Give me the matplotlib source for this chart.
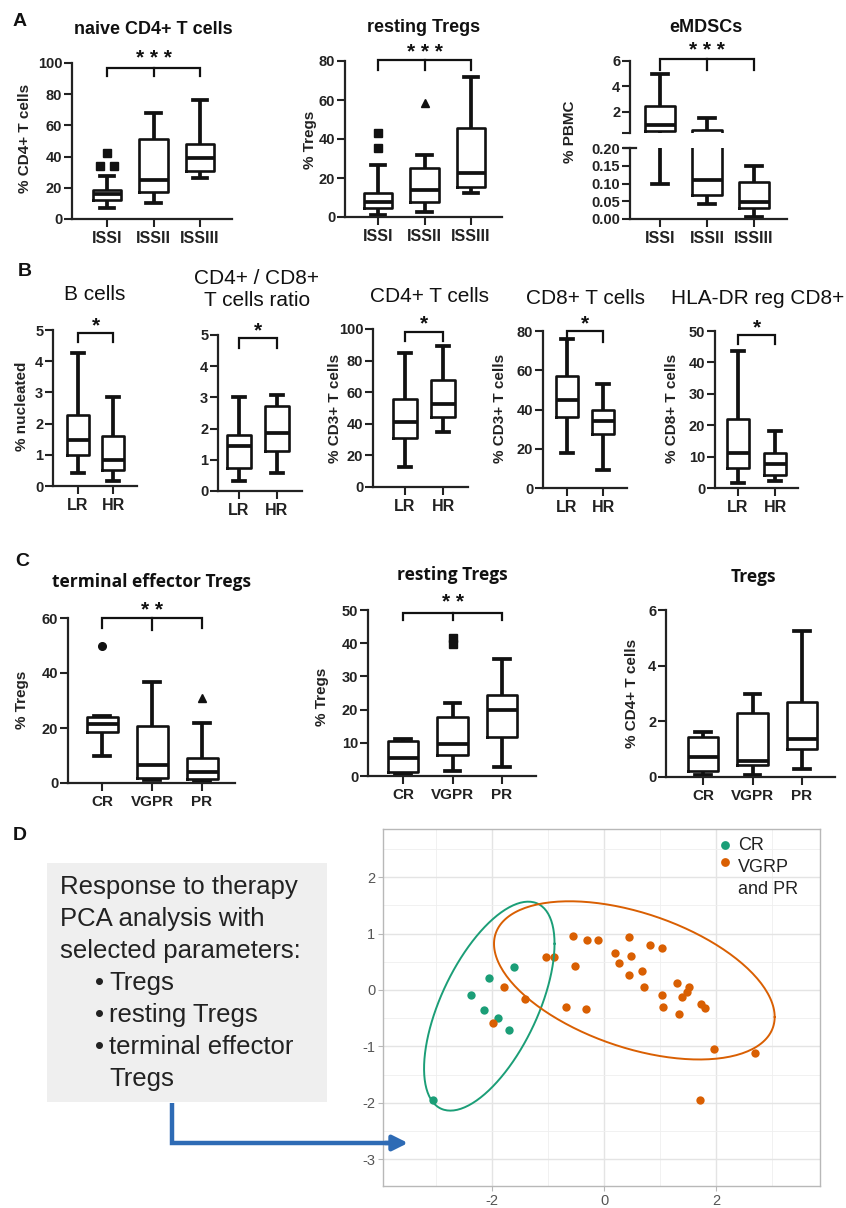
import numpy as np
import matplotlib
matplotlib.use("Agg")
import matplotlib.pyplot as plt
from matplotlib.transforms import blended_transform_factory, Bbox, TransformedBbox
from matplotlib.patches import Rectangle

plt.rcParams["axes.unicode_minus"] = False

W, H = 846, 1208
INK = "#111111"
AXC = "#222222"
SANS = ["Liberation Sans", "DejaVu Sans"]
NARROW = ["Liberation Sans Narrow", "Liberation Sans", "DejaVu Sans"]
OPEN = ["Open Sans", "DejaVu Sans"]
GREEN = "#1B9E77"
ORANGE = "#D95F02"
BLUE = "#2E6BB5"

# ---------------- data ----------------
iss_groups = ["ISSI", "ISSII", "ISSIII"]
risk_groups = ["LR", "HR"]
resp_groups = ["CR", "VGPR", "PR"]

# five-number summaries per group: [whisker low, Q1, median, Q3, whisker high]
naive_cd4_stats = [[7, 12, 16, 18.6, 27.6], [10, 17.5, 25, 51, 68], [26.5, 31, 39, 48, 76]]
naive_cd4_out_group = [0, 0, 0]
naive_cd4_out_value = [42, 34, 34]
naive_cd4_out_jitter = [0.0, -0.15, 0.15]

resting_iss_stats = [[1.0, 4.6, 7.7, 12.3, 26.7], [2.6, 7.7, 13.8, 25, 31.8], [12.3, 15.4, 22.6, 45.6, 72]]
resting_iss_out_group = [0, 0, 1]
resting_iss_out_value = [43, 35.4, 58.5]

emdsc_stats = [[0.098, 0.5, 0.98, 2.47, 5.0], [0.042, 0.068, 0.11, 0.6, 1.5], [0.006, 0.03, 0.048, 0.104, 0.149]]

bcell_stats = [[0.41, 0.99, 1.47, 2.28, 4.26], [0.16, 0.51, 0.83, 1.6, 2.85]]
cd4cd8_ratio_stats = [[0.32, 0.74, 1.44, 1.8, 3.0], [0.58, 1.28, 1.86, 2.72, 3.08]]
cd4_stats = [[12.7, 31, 41, 56, 85], [35, 44, 52.5, 68, 89]]
cd8_stats = [[18, 36, 45, 57, 76], [9, 27.5, 34, 40, 53]]
hladr_cd8_stats = [[1.6, 6.4, 11, 22, 43.6], [2.3, 4.1, 7.6, 11, 18]]

te_treg_stats = [[10, 18.5, 21.5, 24, 24.5], [1.0, 1.8, 6.5, 20.7, 36.7], [0.5, 1.5, 4, 9, 22]]
te_treg_out_group = [0, 2]
te_treg_out_value = [50, 31]
te_treg_out_marker = ["o", "^"]

resting_resp_stats = [[0.5, 1.3, 5.3, 10.5, 11], [1.5, 6.3, 9.7, 17.7, 22], [2.7, 11.8, 20, 24.4, 35.3]]
resting_resp_out_group = [1, 1]
resting_resp_out_value = [41.5, 39.7]

treg_stats = [[0.07, 0.2, 0.72, 1.45, 1.6], [0.07, 0.43, 0.58, 2.3, 3.0], [0.3, 1.0, 1.37, 2.7, 5.25]]

# PCA scores
cr_pc1 = [-1.61, -2.05, -2.38, -2.15, -1.89, -1.69, -3.05]
cr_pc2 = [0.41, 0.21, -0.08, -0.36, -0.50, -0.71, -1.95]
vp_pc1 = [-0.55, -0.31, -0.10, 0.45, 0.83, 1.03, -1.04, -0.90, -0.51, 0.20, 0.26, 0.48,
          0.45, 0.67, 0.71, 1.03, 1.06, 1.31, 1.51, 1.48, 1.39, 1.34, 1.73, 1.80,
          1.96, 2.70, 1.71, -1.79, -1.41, -1.99, -0.68, -0.32]
vp_pc2 = [0.96, 0.89, 0.89, 0.93, 0.79, 0.75, 0.59, 0.59, 0.43, 0.65, 0.47, 0.60,
          0.27, 0.33, 0.05, -0.08, -0.30, 0.12, 0.05, -0.03, -0.12, -0.43, -0.24, -0.31,
          -1.04, -1.12, -1.95, 0.05, -0.16, -0.59, -0.30, -0.33]

pca_params = ["Tregs", "resting Tregs", "terminal effector", "Tregs"]

# ---------------- figure ----------------
fig = plt.figure(figsize=(W / 100, H / 100), dpi=100)
over = fig.add_axes([0, 0, 1, 1], zorder=10)
over.set_xlim(0, W)
over.set_ylim(H, 0)
over.axis("off")
over.patch.set_alpha(0)


def px_axes(x0, ytop, x1, ybot):
    return fig.add_axes([x0 / W, 1 - ybot / H, (x1 - x0) / W, (ybot - ytop) / H])


def box_panel(rect, first_px, step_px, groups, stats, ylim, yticks, ytlabels=None,
              xfont=NARROW, xsize=11.5, show_x=True, clip_box=None):
    x0, ytop, x1, ybot = rect
    n = len(groups)
    ax = px_axes(*rect)
    ax.patch.set_alpha(0)
    ax.set_xlim(1 - (first_px - x0) / step_px,
                n + (x1 - first_px - (n - 1) * step_px) / step_px)
    ax.set_ylim(*ylim)
    bx = [dict(whislo=s[0], q1=s[1], med=s[2], q3=s[3], whishi=s[4], fliers=[]) for s in stats]
    art = ax.bxp(bx, positions=np.arange(1, n + 1), widths=0.62, capwidths=0.32,
                 showfliers=False, manage_ticks=False,
                 boxprops=dict(color=INK, lw=1.9),
                 whiskerprops=dict(color=INK, lw=2.7, solid_capstyle="butt"),
                 capprops=dict(color=INK, lw=2.7),
                 medianprops=dict(color=INK, lw=2.7))
    for key, lines in art.items():
        for ln in lines:
            if clip_box is None:
                ln.set_clip_on(False)
            else:
                ln.set_clip_box(TransformedBbox(Bbox(clip_box), ax.transAxes))
    for s in ("top", "right"):
        ax.spines[s].set_visible(False)
    ax.spines["left"].set_linewidth(1.6)
    ax.spines["left"].set_color(AXC)
    ax.spines["bottom"].set_linewidth(1.6)
    ax.spines["bottom"].set_color(AXC)
    if show_x:
        ax.set_xticks(np.arange(1, n + 1))
        ax.set_xticklabels(groups, fontfamily=xfont, fontweight="bold", fontsize=xsize, color=AXC)
    else:
        ax.set_xticks([])
        ax.spines["bottom"].set_visible(False)
    ax.set_yticks(yticks)
    labels = ytlabels if ytlabels is not None else [f"{t:g}" for t in yticks]
    ax.set_yticklabels(labels, fontfamily=SANS, fontweight="bold", fontsize=10.5, color=AXC)
    ax.tick_params(axis="both", width=1.5, length=5.5, color=AXC)
    ax.tick_params(axis="y", pad=1.5)
    ax.tick_params(axis="x", pad=3)
    return ax


def outliers(ax, groups_idx, values, marker, jitter=None, ms=5.5):
    xs = np.asarray(groups_idx, float) + 1
    if jitter is not None:
        xs = xs + np.asarray(jitter)
    ax.plot(xs, values, linestyle="none", marker=marker, ms=ms, color=INK, clip_on=False)


def bracket(ax, g1, g3, y_bar, y_drop, text, y_text, mid=None, mid_drop=None, size=15):
    tr = blended_transform_factory(ax.transData, over.transData)
    ax.plot([g1, g1, g3, g3], [y_drop, y_bar, y_bar, y_drop], transform=tr,
            color=INK, lw=1.6, clip_on=False, solid_joinstyle="miter")
    if mid is not None:
        ax.plot([mid, mid], [y_bar, mid_drop], transform=tr, color=INK, lw=1.6, clip_on=False)
    ax.text((g1 + g3) / 2, y_text + 11.5, text, transform=tr, ha="center", va="baseline",
            fontsize=size, fontweight="bold", color=INK, family=SANS)


def title(x, y, s, size=13, weight="bold", family=SANS):
    over.text(x, y, s, ha="center", va="center", fontsize=size, fontweight=weight,
              family=family, color=INK)


def ylab(x, y, s, size=11):
    over.text(x, y, s, ha="center", va="center", rotation=90, fontsize=size,
              fontweight="bold", family=SANS, color=AXC)


# ---------- panel A ----------
over.text(20, 22, "A", fontsize=14, fontweight="bold", family=SANS, ha="center", va="center", color=INK)

a1 = box_panel((72, 63, 232, 219), 107, 46.5, iss_groups, naive_cd4_stats, (0, 100), range(0, 101, 20))
outliers(a1, naive_cd4_out_group, naive_cd4_out_value, "s", naive_cd4_out_jitter)
bracket(a1, 1, 3, 68, 76, "* * *", 53, mid=2, mid_drop=76)
title(153, 30, "naive CD4+ T cells")
ylab(25, 138, "% CD4+ T cells")

a2 = box_panel((345, 61, 502, 217), 378, 46.5, iss_groups, resting_iss_stats, (0, 80), range(0, 81, 20))
outliers(a2, resting_iss_out_group[:2], resting_iss_out_value[:2], "s")
outliers(a2, resting_iss_out_group[2:], resting_iss_out_value[2:], "^")
bracket(a2, 1, 3, 60, 70, "* * *", 47, mid=2, mid_drop=70)
title(424, 28, "resting Tregs")
ylab(310, 140, "% Tregs")

# broken y axis for eMDSCs
a3u = box_panel((630, 61, 787, 133), 660, 47, iss_groups, emdsc_stats, (0.35, 6), [0.35, 2, 4, 6],
                ytlabels=["", "2", "4", "6"], show_x=False, clip_box=[[-0.2, 0.0], [1.2, 1.5]])
a3l = box_panel((630, 148, 787, 219), 660, 47, iss_groups, emdsc_stats, (0, 0.2),
                [0, 0.05, 0.10, 0.15, 0.20], ytlabels=["0.00", "0.05", "0.10", "0.15", "0.20"],
                clip_box=[[-0.2, -0.3], [1.2, 1.0]])
over.plot([624, 636], [148, 148], color=AXC, lw=1.6)
bracket(a3u, 1, 3, 59, 70, "* * *", 45, mid=2, mid_drop=70)
title(706, 28, "eMDSCs")
ylab(570, 132, "% PBMC")

# ---------- panel B ----------
over.text(25, 272, "B", fontsize=14, fontweight="bold", family=SANS, ha="center", va="center", color=INK)

b1 = box_panel((53, 330, 137, 486), 78, 35, risk_groups, bcell_stats, (0, 5), range(0, 6))
bracket(b1, 1, 2, 333, 342, "*", 320)
title(95, 295, "B cells", size=15, weight="normal")
ylab(22, 406, "% nucleated")

b2 = box_panel((218, 335, 302, 491), 239, 38, risk_groups, cd4cd8_ratio_stats, (0, 5), range(0, 6))
bracket(b2, 1, 2, 338, 348, "*", 325)
title(257, 278, "CD4+ / CD8+", size=15, weight="normal")
title(257, 301, "T cells ratio", size=15, weight="normal")

b3 = box_panel((373, 329, 468, 487), 405, 38, risk_groups, cd4_stats, (0, 100), range(0, 101, 20))
bracket(b3, 1, 2, 332, 341, "*", 318)
title(430, 297, "CD4+ T cells", size=15, weight="normal")
ylab(335, 408, "% CD3+ T cells")

b4 = box_panel((543, 331, 627, 488), 567, 36, risk_groups, cd8_stats, (0, 80), range(0, 81, 20))
bracket(b4, 1, 2, 331, 342, "*", 318)
title(585, 298, "CD8+ T cells", size=15, weight="normal")
ylab(500, 408, "% CD3+ T cells")

b5 = box_panel((715, 331, 798, 488), 738, 37, risk_groups, hladr_cd8_stats, (0, 50), range(0, 51, 10))
bracket(b5, 1, 2, 335, 344, "*", 322)
title(758, 298, "HLA-DR reg CD8+", size=15, weight="normal")
ylab(672, 408, "% CD8+ T cells")

# ---------- panel C ----------
over.text(22, 562, "C", fontsize=14, fontweight="bold", family=SANS, ha="center", va="center", color=INK)

c1 = box_panel((68, 618, 235, 783), 102, 50, resp_groups, te_treg_stats, (0, 60), range(0, 61, 20),
               xfont=SANS, xsize=11)
for g, v, m in zip(te_treg_out_group, te_treg_out_value, te_treg_out_marker):
    outliers(c1, [g], [v], m)
bracket(c1, 1, 3, 618, 628, "* *", 605, mid=2, mid_drop=630)
title(152, 582, "terminal effector Tregs", size=12.5, family=OPEN)
ylab(22, 700, "% Tregs")

c2 = box_panel((368, 610, 536, 776), 403, 49.5, resp_groups, resting_resp_stats, (0, 50), range(0, 51, 10),
               xfont=SANS, xsize=11)
outliers(c2, resting_resp_out_group, resting_resp_out_value, "s")
bracket(c2, 1, 3, 613, 620, "* *", 597, mid=2, mid_drop=620)
title(452, 575, "resting Tregs", size=12.5, family=OPEN)
ylab(322, 697, "% Tregs")

c3 = box_panel((666, 610, 835, 777), 703, 49.5, resp_groups, treg_stats, (0, 6), range(0, 7, 2),
               xfont=SANS, xsize=11)
title(753, 577, "Tregs", size=12.5, family=OPEN)
ylab(632, 693, "% CD4+ T cells")

# ---------- panel D ----------
over.text(20, 835, "D", fontsize=14, fontweight="bold", family=SANS, ha="center", va="center", color=INK)
over.add_patch(Rectangle((47, 863), 280, 239, facecolor="#EFEFEF", edgecolor="none"))
intro = ["Response to therapy", "PCA analysis with", "selected parameters:"]
for i, line in enumerate(intro):
    over.text(60, 887 + 32 * i, line, fontsize=18.5, family=SANS, color=AXC, ha="left", va="center")
for i, item in enumerate(pca_params):
    y = 983 + 32 * i
    if i < 3:
        over.text(95, y, "•", fontsize=18.5, family=SANS, color=AXC, ha="left", va="center")
    over.text(109, y, item, fontsize=18.5, family=SANS, color=AXC, ha="left", va="center")

over.plot([172, 172, 395], [1103, 1143, 1143], color=BLUE, lw=3.2, solid_joinstyle="miter",
          solid_capstyle="butt")
over.annotate("", xy=(408, 1143), xytext=(385, 1143),
              arrowprops=dict(arrowstyle="-|>,head_length=0.9,head_width=0.45", color=BLUE, lw=3.2,
                              shrinkA=0, shrinkB=0))

axd = px_axes(383, 829, 820, 1186)
axd.set_xlim(-3.95, 3.86)
axd.set_ylim(-3.47, 2.85)
axd.set_xticks([-2, 0, 2])
axd.set_xticks([-3, -1, 1, 3], minor=True)
axd.set_yticks([-3, -2, -1, 0, 1, 2])
axd.set_yticks([-2.5, -1.5, -0.5, 0.5, 1.5, 2.5], minor=True)
axd.grid(which="major", color="#E4E4E4", lw=1.0)
axd.grid(which="minor", color="#EFEFEF", lw=0.6)
axd.set_axisbelow(True)
for sp in axd.spines.values():
    sp.set_color("#B8B8B8")
    sp.set_linewidth(1.0)
axd.tick_params(which="major", color="#B8B8B8", length=3.5, width=0.8, labelsize=10.5,
                labelcolor="#555555", pad=2)
axd.tick_params(which="minor", length=0)
for lab in axd.get_xticklabels() + axd.get_yticklabels():
    lab.set_family(SANS)


def robust_t_cov(pts, nu=5, maxit=25, tol=0.01):
    # multivariate-t scatter estimate (iteratively reweighted)
    n, p = pts.shape
    loc = pts.mean(axis=0)
    w = np.ones(n)
    X = pts - loc
    for _ in range(maxit):
        w0 = w
        X = pts - loc
        S = (w[:, None] * X).T @ X / w.sum()
        Q = np.einsum("ij,jk,ik->i", X, np.linalg.inv(S), X)
        w = (nu + p) / (nu + Q)
        loc = (w[:, None] * pts).sum(axis=0) / w.sum()
        if np.all(np.abs(w - w0) < tol):
            break
    cov = (w[:, None] * X).T @ X / n
    return loc, cov


def data_ellipse(x, y, level=0.95, npts=200):
    pts = np.column_stack([x, y])
    n = len(pts)
    center, shape = robust_t_cov(pts)
    dfd = n - 1
    fq = dfd / 2 * ((1 - level) ** (-2 / dfd) - 1)  # F(2, dfd) quantile
    radius = np.sqrt(2 * fq)
    t = np.linspace(0, 2 * np.pi, npts)
    circle = np.column_stack([np.cos(t), np.sin(t)])
    upper = np.linalg.cholesky(shape).T
    return center + radius * circle @ upper


axd.scatter(cr_pc1, cr_pc2, s=36, color=GREEN, zorder=3, linewidths=0)
axd.scatter(vp_pc1, vp_pc2, s=36, color=ORANGE, zorder=3, linewidths=0)
e_cr = data_ellipse(cr_pc1, cr_pc2)
e_vp = data_ellipse(vp_pc1, vp_pc2)
axd.plot(e_cr[:, 0], e_cr[:, 1], color=GREEN, lw=1.4, zorder=4)
axd.plot(e_vp[:, 0], e_vp[:, 1], color=ORANGE, lw=1.4, zorder=4)

# legend keys
over.scatter([725], [845], s=40, color=GREEN, linewidths=0)
over.scatter([725], [862], s=40, color=ORANGE, linewidths=0)
over.text(738, 845, "CR", fontsize=13, family=SANS, color=AXC, ha="left", va="center")
over.text(738, 867, "VGRP", fontsize=13, family=SANS, color=AXC, ha="left", va="center")
over.text(738, 889, "and PR", fontsize=13, family=SANS, color=AXC, ha="left", va="center")

fig.savefig("out.png", dpi=100, facecolor="white")
